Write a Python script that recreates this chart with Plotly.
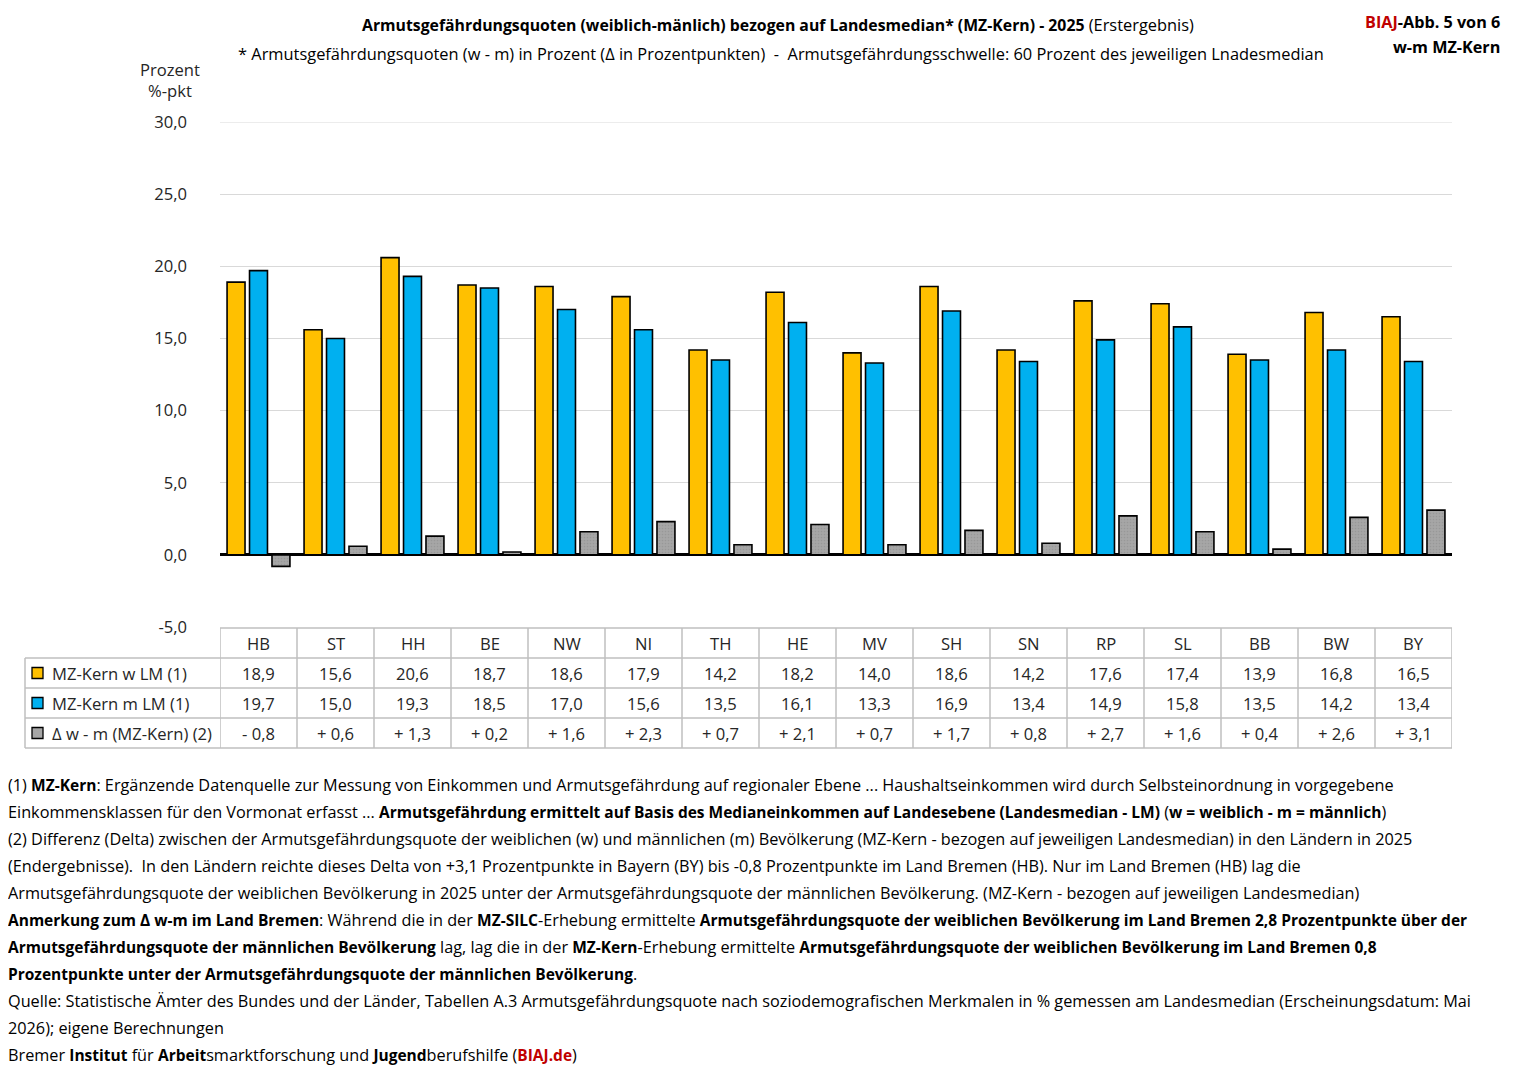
import plotly.graph_objects as go

# ---------------- data ----------------
laender = ["HB", "ST", "HH", "BE", "NW", "NI", "TH", "HE", "MV", "SH", "SN", "RP", "SL", "BB", "BW", "BY"]
w_lm = [18.9, 15.6, 20.6, 18.7, 18.6, 17.9, 14.2, 18.2, 14.0, 18.6, 14.2, 17.6, 17.4, 13.9, 16.8, 16.5]
m_lm = [19.7, 15.0, 19.3, 18.5, 17.0, 15.6, 13.5, 16.1, 13.3, 16.9, 13.4, 14.9, 15.8, 13.5, 14.2, 13.4]
delta = [-0.8, 0.6, 1.3, 0.2, 1.6, 2.3, 0.7, 2.1, 0.7, 1.7, 0.8, 2.7, 1.6, 0.4, 2.6, 3.1]
series_names = ["MZ-Kern w LM (1)", "MZ-Kern m LM (1)", "Δ w - m (MZ-Kern) (2)"]
y_ticks = [-5, 0, 5, 10, 15, 20, 25, 30]

# page body has an 8px margin -> figure drawn at (8,8)
OFF = 8
W, H = 1517 - 2 * OFF, 1074 - 2 * OFF
L, R, T, B = 220, 1452, 122, 627          # plot area in screen pixels
FONT = "'Open Sans', Lato, sans-serif"
colors = ["#FFC000", "#00B0F0", "#A6A6A6"]
REG = 16.4      # regular title text size
BOLD = 15.8     # bold title text size
FREG = 16.25    # footnote regular
FBOLD = 15.5    # footnote bold
TAB = 16.6      # table / tick size


def xp(px):
    return (px - L) / (R - L)


def yp(py):
    return (B - py) / (B - T)


def fmt(v):
    return f"{v:.1f}".replace(".", ",")


def fmt_delta(v):
    s = "+ " if v >= 0 else "- "
    return s + f"{abs(v):.1f}".replace(".", ",")


def bold(s, color=None, size=FBOLD):
    st = f"font-size:{size}px"
    if color:
        st += f";color:{color}"
    return f"<b><span style='{st}'>{s}</span></b>"


fig = go.Figure()
for name, vals, col in zip(series_names, [w_lm, m_lm, delta], colors):
    marker = dict(color=col, line=dict(color="black", width=1.6))
    if col == "#A6A6A6":
        marker["pattern"] = dict(shape=".", fgcolor="#8A8A8A", bgcolor=col, size=3, solidity=0.25)
    fig.add_trace(go.Bar(x=laender, y=vals, name=name, marker=marker, showlegend=False))

fig.update_layout(
    width=W, height=H,
    margin=dict(l=L - OFF, r=W - (R - OFF), t=T - OFF, b=H - (B - OFF), pad=0),
    paper_bgcolor="white", plot_bgcolor="white",
    barmode="group", bargap=0.125, bargroupgap=0.2,
    separators=",.",
    font=dict(family=FONT, color="black", size=REG),
    xaxis=dict(showticklabels=False, showgrid=False, zeroline=False, showline=False,
               range=[-0.5, len(laender) - 0.5], fixedrange=True),
    yaxis=dict(range=[-5, 30], tickvals=y_ticks, ticktext=[fmt(v) for v in y_ticks],
               showgrid=True, gridcolor="#D9D9D9", gridwidth=1.2, zeroline=True,
               zerolinecolor="black", zerolinewidth=3, showline=False, ticks="",
               ticklabelstandoff=32, tickfont=dict(size=TAB, color="#262626", family=FONT)),
)

shapes = []
ann = []
shapes.append(dict(type="line", xref="paper", yref="y", x0=0, x1=1, y0=y_ticks[-1], y1=y_ticks[-1],
                   line=dict(color="#D9D9D9", width=1.2), layer="below"))

# ---------------- titles ----------------
ann.append(dict(x=xp(778), y=yp(24), xref="paper", yref="paper", showarrow=False,
                xanchor="center", yanchor="middle",
                text=bold("Armutsgefährdungsquoten (weiblich-mänlich) bezogen auf Landesmedian* (MZ-Kern) - 2025", size=BOLD) + " (Erstergebnis)",
                font=dict(size=REG)))
ann.append(dict(x=xp(781), y=yp(53), xref="paper", yref="paper", showarrow=False,
                xanchor="center", yanchor="middle",
                text="* Armutsgefährdungsquoten (w - m) in Prozent (Δ in Prozentpunkten)  -  Armutsgefährdungsschwelle: 60 Prozent des jeweiligen Lnadesmedian",
                font=dict(size=REG)))
ann.append(dict(x=xp(1502), y=yp(22), xref="paper", yref="paper", showarrow=False,
                xanchor="right", yanchor="middle",
                text="<b><span style='color:#C00000'>BIAJ</span>-Abb. 5 von 6</b>", font=dict(size=16.2)))
ann.append(dict(x=xp(1502), y=yp(47), xref="paper", yref="paper", showarrow=False,
                xanchor="right", yanchor="middle", text="<b>w-m MZ-Kern</b>", font=dict(size=16.2)))
ann.append(dict(x=xp(170), y=yp(70), xref="paper", yref="paper", showarrow=False,
                xanchor="center", yanchor="middle", text="Prozent", font=dict(size=TAB, color="#262626")))
ann.append(dict(x=xp(170), y=yp(91), xref="paper", yref="paper", showarrow=False,
                xanchor="center", yanchor="middle", text="%-pkt", font=dict(size=TAB, color="#262626")))

# ---------------- data table ----------------
gc = "#BFBFBF"
row_tops = [628, 658, 688, 718, 748]
shapes.append(dict(type="line", xref="paper", yref="paper", x0=xp(L), x1=xp(R),
                   y0=yp(row_tops[0]), y1=yp(row_tops[0]), line=dict(color=gc, width=1.5)))
for yy in row_tops[1:]:
    shapes.append(dict(type="line", xref="paper", yref="paper", x0=xp(25), x1=xp(R),
                       y0=yp(yy), y1=yp(yy), line=dict(color=gc, width=1.5)))
for i in range(len(laender) + 1):
    shapes.append(dict(type="line", xref="x", yref="paper", x0=i - 0.5, x1=i - 0.5,
                       y0=yp(row_tops[0]), y1=yp(row_tops[-1]), line=dict(color=gc, width=1.5)))
shapes.append(dict(type="line", xref="paper", yref="paper", x0=xp(25), x1=xp(25),
                   y0=yp(row_tops[1]), y1=yp(row_tops[-1]), line=dict(color=gc, width=1.5)))

rows = [[c for c in laender], [fmt(v) for v in w_lm], [fmt(v) for v in m_lm], [fmt_delta(v) for v in delta]]
for r, texts in enumerate(rows):
    yc = (row_tops[r] + row_tops[r + 1]) / 2
    for c, t in zip(laender, texts):
        ann.append(dict(x=c, y=yp(yc), xref="x", yref="paper", showarrow=False,
                        xanchor="center", yanchor="middle", text=t, font=dict(size=TAB, color="#262626")))

for k, (name, col) in enumerate(zip(series_names, colors)):
    yc = (row_tops[k + 1] + row_tops[k + 2]) / 2
    shapes.append(dict(type="rect", xref="paper", yref="paper", x0=xp(32), x1=xp(43),
                       y0=yp(yc + 5.5), y1=yp(yc - 5.5), fillcolor=col, line=dict(color="black", width=1.3)))
    ann.append(dict(x=xp(50), y=yp(yc), xref="paper", yref="paper", showarrow=False,
                    xanchor="left", yanchor="middle", text=name, font=dict(size=TAB, color="#262626")))

# ---------------- footnotes ----------------
foot = [
    "(1) " + bold("MZ-Kern") + ": Ergänzende Datenquelle zur Messung von Einkommen und Armutsgefährdung auf regionaler Ebene ... Haushaltseinkommen wird durch Selbsteinordnung in vorgegebene",
    "Einkommensklassen für den Vormonat erfasst ... " + bold("Armutsgefährdung ermittelt auf Basis des Medianeinkommen auf Landesebene (Landesmedian - LM)") + " (" + bold("w = weiblich - m = männlich") + ")",
    "(2) Differenz (Delta) zwischen der Armutsgefährdungsquote der weiblichen (w) und männlichen (m) Bevölkerung (MZ-Kern - bezogen auf jeweiligen Landesmedian) in den Ländern in 2025",
    "(Endergebnisse).  In den Ländern reichte dieses Delta von +3,1 Prozentpunkte in Bayern (BY) bis -0,8 Prozentpunkte im Land Bremen (HB). Nur im Land Bremen (HB) lag die",
    "Armutsgefährdungsquote der weiblichen Bevölkerung in 2025 unter der Armutsgefährdungsquote der männlichen Bevölkerung. (MZ-Kern - bezogen auf jeweiligen Landesmedian)",
    bold("Anmerkung zum Δ w-m im Land Bremen") + ": Während die in der " + bold("MZ-SILC") + "-Erhebung ermittelte " + bold("Armutsgefährdungsquote der weiblichen Bevölkerung im Land Bremen 2,8 Prozentpunkte über der"),
    bold("Armutsgefährdungsquote der männlichen Bevölkerung") + " lag, lag die in der " + bold("MZ-Kern") + "-Erhebung ermittelte " + bold("Armutsgefährdungsquote der weiblichen Bevölkerung im Land Bremen 0,8"),
    bold("Prozentpunkte unter der Armutsgefährdungsquote der männlichen Bevölkerung") + ".",
    "Quelle: Statistische Ämter des Bundes und der Länder, Tabellen A.3 Armutsgefährdungsquote nach soziodemografischen Merkmalen in % gemessen am Landesmedian (Erscheinungsdatum: Mai",
    "2026); eigene Berechnungen",
    "Bremer " + bold("Institut") + " für " + bold("Arbeit") + "smarktforschung und " + bold("Jugend") + "berufshilfe (" + bold("BIAJ.de", "#C00000") + ")",
]
for i, line in enumerate(foot):
    ann.append(dict(x=xp(6), y=yp(785 + 27 * i), xref="paper", yref="paper", showarrow=False,
                    xanchor="left", yanchor="middle", text=line, font=dict(size=FREG, color="black")))

fig.update_layout(shapes=shapes, annotations=ann)
fig.write_html("out.html")
